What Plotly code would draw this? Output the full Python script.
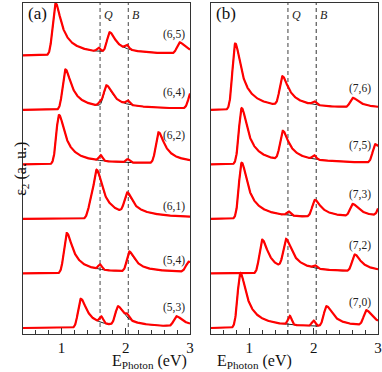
import numpy as np
import plotly.graph_objects as go

# energy window and the two marked transitions
e_min, e_max = 0.4, 3.0
q_line = 1.60
b_line = 2.04

# panel (a), spectra listed from top to bottom
labels_a = ["(6,5)", "(6,4)", "(6,2)", "(6,1)", "(5,4)", "(5,3)"]
peak_e_a = [[0.905, 1.75, 2.84], [1.06, 1.70, 3.02], [0.96, 2.51],
            [1.46, 1.55, 2.02], [1.08, 2.06, 2.98], [1.30, 1.88, 2.79]]
peak_h_a = [[0.93, 0.36, 0.20], [0.72, 0.38, 0.30], [0.88, 0.55],
            [0.30, 0.68, 0.34], [0.72, 0.33, 0.18], [0.52, 0.34, 0.18]]
q_pos_a = [1.58, 1.60, 1.61, 1.60, 1.60, 1.62]
q_h_a = [0.07, 0.06, 0.10, 0.02, 0.09, 0.11]
b_pos_a = [2.02, 2.03, 2.03, 2.04, 2.05, 2.02]
b_h_a = [0.07, 0.07, 0.06, 0.03, 0.03, 0.07]

# panel (b)
labels_b = ["(7,6)", "(7,5)", "(7,3)", "(7,2)", "(7,0)"]
peak_e_b = [[0.78, 1.515, 2.61], [0.88, 1.52, 2.96], [0.88, 2.02, 2.61, 3.05],
            [1.20, 1.57, 2.64], [0.86, 2.20, 2.82]]
peak_h_b = [[1.18, 0.52, 0.17], [1.0, 0.52, 0.33], [1.0, 0.30, 0.22, 0.25],
            [0.60, 0.52, 0.30], [0.98, 0.36, 0.27]]
q_pos_b = [1.60, 1.60, 1.61, 1.60, 1.63]
q_h_b = [0.0, 0.0, 0.07, 0.0, 0.16]
b_pos_b = [2.01, 2.01, 2.02, 2.02, 2.00]
b_h_b = [0.06, 0.07, 0.0, 0.05, 0.10]

label_dy_a = [0.38, 0.32, 0.53, 0.23, 0.23, 0.38]
label_dy_b = [0.39, 0.35, 0.45, 0.51, 0.46]

E = np.linspace(e_min, e_max, 700)


def band(e0, h):
    # sharp rise, slow decay, small plateau
    x = E - e0
    d = np.clip(x, 0, None)
    rise = np.exp(-(x / 0.06) ** 2)
    fall = np.exp(-(np.sqrt(d ** 2 + 0.05 ** 2) - 0.05) / 0.55) / np.sqrt(1 + (d / 0.08) ** 2)
    core = np.where(x < 0, rise, fall)
    plateau = 0.06 / (1 + np.exp(-x / 0.03)) * np.exp(-d / 1.5)
    return h * (core + plateau)


def bump(e0, h):
    return h * np.exp(-((E - e0) / 0.04) ** 2)


fig = go.Figure()


def add_panel(xa, ya, labels, pe, ph, qp, qh, bp, bh, dys, lab_x):
    n = len(labels)
    for i in range(n):
        off = n - 1 - i
        base = sum(band(e, h) for e, h in zip(pe[i], ph[i]))
        full = base + bump(qp[i], qh[i]) + bump(bp[i], bh[i])
        fig.add_trace(go.Scatter(x=E, y=base + off, mode="lines", xaxis=xa, yaxis=ya,
                                 line=dict(color="#222", width=1), showlegend=False))
        fig.add_trace(go.Scatter(x=E, y=full + off, mode="lines", xaxis=xa, yaxis=ya,
                                 line=dict(color="#ff0000", width=2.2), showlegend=False))
        fig.add_annotation(x=lab_x, y=off + dys[i], xref=xa, yref=ya, text=labels[i],
                           showarrow=False, font=dict(size=11.5, color="#222"))


add_panel("x", "y", labels_a, peak_e_a, peak_h_a, q_pos_a, q_h_a, b_pos_a, b_h_a, label_dy_a, 2.75)
add_panel("x2", "y2", labels_b, peak_e_b, peak_h_b, q_pos_b, q_h_b, b_pos_b, b_h_b, label_dy_b, 2.72)

# dashed markers
for xr, yr, qc, qw, bc, bw in [("x", "y", "#666", 1.2, "#666", 1.2), ("x2", "y2", "#888", 1.6, "#333", 1.0)]:
    fig.add_shape(type="line", xref=xr, yref=yr + " domain", x0=q_line, x1=q_line, y0=0, y1=1,
                  line=dict(color=qc, width=qw, dash="4px,3px"), layer="below")
    fig.add_shape(type="line", xref=xr, yref=yr + " domain", x0=b_line, x1=b_line, y0=0, y1=1,
                  line=dict(color=bc, width=bw, dash="4px,3px"), layer="below")
    fig.add_annotation(x=q_line, y=5.74, xref=xr, yref=yr, text="<i>Q</i>", showarrow=False,
                       xanchor="left", xshift=2, font=dict(size=12, color="#222"))
    fig.add_annotation(x=b_line, y=5.74, xref=xr, yref=yr, text="<i>B</i>", showarrow=False,
                       xanchor="left", xshift=2, font=dict(size=12, color="#222"))

fig.add_annotation(x=0.62, y=5.76, xref="x", yref="y", text="(a)", showarrow=False,
                   font=dict(size=17, color="#111"))
fig.add_annotation(x=0.64, y=5.76, xref="x2", yref="y2", text="(b)", showarrow=False,
                   font=dict(size=17, color="#111"))
fig.add_annotation(x=-0.037, y=0.5, xref="paper", yref="paper", text="ε<sub>2</sub> (a. u.)",
                   textangle=-90, showarrow=False, font=dict(size=16, color="#111"))
for xp in [0.245, 0.763]:
    fig.add_annotation(x=xp, y=-0.082, xref="paper", yref="paper", text="E<sub>Photon</sub> (eV)",
                       showarrow=False, yanchor="middle", font=dict(size=16, color="#111"))

xaxis_style = dict(
    range=[e_min, e_max], showline=True, mirror=True, linecolor="#333", linewidth=1.2,
    ticks="inside", ticklen=6, tickcolor="#333", tickvals=[1, 2, 3],
    minor=dict(dtick=0.2, tick0=0, ticks="inside", ticklen=4, tickcolor="#333"),
    tickfont=dict(size=15, color="#111"), showgrid=False, zeroline=False,
    automargin=False,
)
yaxis_style = dict(
    range=[-0.11, 5.96], showline=True, mirror=True, linecolor="#333", linewidth=1.2,
    showticklabels=False, ticks="", showgrid=False, zeroline=False, fixedrange=True,
)

fig.update_layout(
    width=382, height=372,
    margin=dict(l=23, r=4, t=3, b=38),
    paper_bgcolor="white", plot_bgcolor="white",
    font=dict(family="Liberation Serif, Times New Roman, serif"),
    xaxis=dict(domain=[0, 0.4704], anchor="y", **xaxis_style),
    yaxis=dict(domain=[0, 1], anchor="x", **yaxis_style),
    xaxis2=dict(domain=[0.5287, 1.0], anchor="y2", **xaxis_style),
    yaxis2=dict(domain=[0, 1], anchor="x2", **yaxis_style),
)

fig.write_html("out.html", config={"displayModeBar": False},
               post_script="document.body.style.margin='0';")
